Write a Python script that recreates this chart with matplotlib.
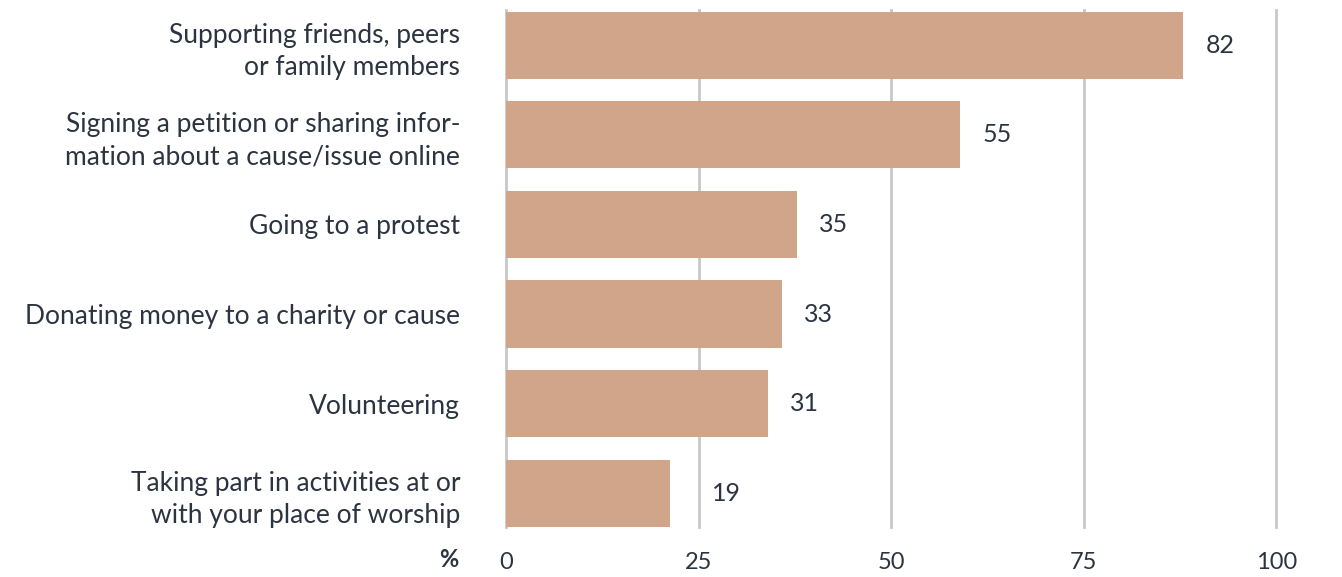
import matplotlib.pyplot as plt

plt.rcParams['font.family'] = ['Lato', 'DejaVu Sans']

categories = [
    "Supporting friends, peers\nor family members",
    "Signing a petition or sharing infor-\nmation about a cause/issue online",
    "Going to a protest",
    "Donating money to a charity or cause",
    "Volunteering",
    "Taking part in activities at or\nwith your place of worship",
]
values = [82, 55, 35, 33, 31, 19]
# drawn bar lengths as they appear on the reference axis
bar_lengths = [87.9, 59.0, 37.8, 35.8, 34.0, 21.3]
xticks = [0, 25, 50, 75, 100]

TEXT = '#2b3440'
BAR = '#d0a58a'
GRID = '#c6c8ca'

fig = plt.figure(figsize=(13.42, 5.77), dpi=100)
ax = fig.add_axes([0.377, 0.087, 0.574, 0.896])

pos = list(range(len(categories)))
ax.barh(pos, bar_lengths, height=0.75, color=BAR, zorder=2)

for p, length, v in zip(pos, bar_lengths, values):
    x = length + 2.9
    # keep the number clear of a gridline
    for t in xticks:
        if x - 1 < t < x + 4:
            x = t + 1.7
    ax.text(x, p, str(v), ha='left', va='center', fontsize=18, color=TEXT)

ax.set_xlim(0, 100)
ax.set_ylim(5.374, -0.396)
ax.set_xticks(xticks)
ax.set_xticklabels([str(t) for t in xticks])
ax.set_yticks(pos)
ax.set_yticklabels(categories, fontsize=19, color=TEXT, linespacing=1.35)
ax.tick_params(axis='y', length=0, pad=33)
ax.tick_params(axis='x', length=0, pad=18, labelsize=17, labelcolor=TEXT)

for t in xticks:
    ax.axvline(t, color=GRID, linewidth=2, zorder=1, clip_on=False)

for s in ax.spines.values():
    s.set_visible(False)

fig.text(0.3346, 0.0295, '%', fontsize=17, fontweight='bold', color=TEXT, ha='center', va='center')

fig.savefig('out.png', dpi=100)
